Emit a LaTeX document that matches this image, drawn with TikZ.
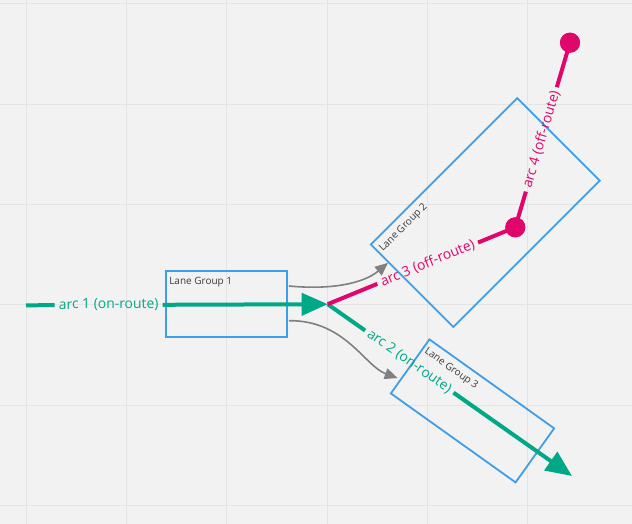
\documentclass[tikz,border=0pt]{standalone}
\usepackage{fontspec}
\setmainfont{Open Sans}
\usetikzlibrary{arrows.meta,calc}
\definecolor{bgc}{HTML}{F2F2F2}
\definecolor{gridc}{HTML}{E4E4E4}
\definecolor{lgblue}{HTML}{3D9EE9}
\definecolor{ongreen}{HTML}{00A886}
\definecolor{offmag}{HTML}{E0066C}
\definecolor{conngray}{HTML}{808080}
\definecolor{lgtext}{HTML}{3A3A3A}
\begin{document}
\begin{tikzpicture}[x=1pt,y=1pt,
  lanebox/.style={draw=lgblue,line width=1.8pt,inner sep=0pt,shape=rectangle},
  lanelabel/.style={text=lgtext,font=\fontsize{10}{12}\selectfont,inner xsep=4pt,inner ysep=7.3pt,anchor=north west},
  onroute/.style={draw=ongreen,line width=4pt},
  offroute/.style={draw=offmag,line width=4pt},
  arclabel/.style={font=\fontsize{13.9}{16}\selectfont,inner xsep=4pt,inner ysep=0pt,sloped},
  onlabel/.style={arclabel,text=ongreen},
  offlabel/.style={arclabel,text=offmag},
  bigtip/.style={-{Triangle[length=26pt,width=22pt]}},
  lgarrow/.style={draw=conngray,line width=1.6pt,-{Triangle[length=13pt,width=11pt]}},
  enddot/.style={circle,fill=offmag,minimum size=20pt,inner sep=0pt}
]
% background and grid
\fill[bgc] (0,0) rectangle (632,524);
\useasboundingbox (0,0) rectangle (632,524);
\foreach \gx in {26.2,126.5,226.8,327.1,427.4,527.7}
  \draw[gridc,line width=1pt] (\gx,0) -- (\gx,524);
\foreach \gy in {520,419.7,319.4,219.1,118.8,18.5}
  \draw[gridc,line width=1pt] (0,\gy) -- (632,\gy);

% lane groups
\node[lanebox,minimum width=121pt,minimum height=66pt] (lg1) at (226.5,220) {};
\node[lanebox,rotate=45,minimum width=207pt,minimum height=116.7pt] (lg2) at (485.3,311.5) {};
\node[lanebox,rotate=-35.5,minimum width=153.2pt,minimum height=66.4pt] (lg3) at (472.5,113.1) {};
\node[lanelabel] (t1) at (lg1.north west) {Lane Group 1};
\node[lanelabel,rotate=45] (t2) at (lg2.north west) {Lane Group 2};
\node[lanelabel,rotate=-35.5] (t3) at (lg3.north west) {Lane Group 3};

% grey lane group connections
\coordinate (g1s) at ($(lg1.east)+(1,18)$);
\coordinate (g2s) at ($(lg1.east)+(1,-16.7)$);
\coordinate (g1e) at ($(lg2.north west)!0.22!(lg2.south west)$);
\coordinate (g2e) at ($(lg3.north west)!0.72!(lg3.south west)+(-3,0)$);
\draw[lgarrow] (g1s) .. controls +(41,-4) and +(-25,-21) .. (g1e);
\draw[lgarrow] (g2s) .. controls +(56,0.7) and +(-33,12) .. (g2e);

% arc points
\coordinate (a1s) at (26,218.7);
\coordinate (J) at (327.7,219.8);
\coordinate (T2) at (572,48);
\node[enddot] (C1) at (515.3,296.7) {};
\node[enddot] (C2) at (570,481.3) {};

% label positions along the arcs
\path (a1s) -- (J) node[onlabel,pos=0.274] (l1) {arc 1 (on-route)};
\path (J) -- (T2) node[onlabel,pos=0.334] (l2) {arc 2 (on-route)};
\path (J) -- (C1.center) node[offlabel,pos=0.533] (l3) {arc 3 (off-route)};
\path (C1.center) -- (C2.center) node[offlabel,pos=0.476] (l4) {arc 4 (off-route)};

% on-route arcs
\draw[onroute] (a1s) -- (l1.west);
\draw[onroute,bigtip] (l1.east) -- (J);
\draw[onroute] (J) -- (l2.west);
\draw[onroute,bigtip] (l2.east) -- (T2);
% off-route arcs
\draw[offroute] (J) -- (l3.west);
\draw[offroute] (l3.east) -- (C1.center);
\draw[offroute] (C1.center) -- (l4.west);
\draw[offroute] (l4.east) -- (C2.center);
\node[enddot] at (C1.center) {};
\node[enddot] at (C2.center) {};
\end{tikzpicture}
\end{document}
